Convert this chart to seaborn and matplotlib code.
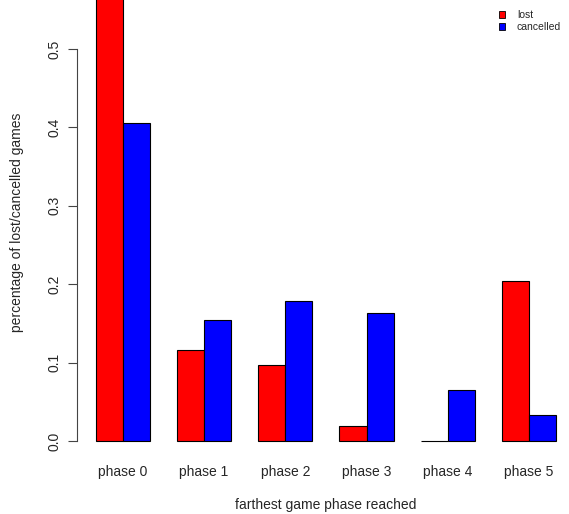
import pandas as pd
import numpy as np
import matplotlib
matplotlib.use('Agg')
import matplotlib.pyplot as plt
import seaborn as sns
from matplotlib.patches import Patch

# -------------------------------
# DATA
# -------------------------------

phases = ['phase 0', 'phase 1', 'phase 2', 'phase 3', 'phase 4', 'phase 5']
lost = [0.60, 0.116, 0.097, 0.019, 0.0, 0.204]
cancelled = [0.406, 0.154, 0.179, 0.163, 0.065, 0.033]
series = ['lost', 'cancelled']
colors = ['#FF0000', '#0000FF']
y_ticks = [0.0, 0.1, 0.2, 0.3, 0.4, 0.5]

df = pd.DataFrame({
    'phase': phases * 2,
    'type': ['lost'] * len(phases) + ['cancelled'] * len(phases),
    'value': lost + cancelled
})

# -------------------------------
# PLOT
# -------------------------------

sns.set_style('white')
plt.rcParams['font.family'] = ['Liberation Sans', 'DejaVu Sans']

fig = plt.figure(figsize=(5.69, 5.14), dpi=100)
ax = fig.add_axes([77 / 569, 1 - 459 / 514, 492 / 569, 459 / 514])

sns.barplot(
    data=df,
    x='phase',
    y='value',
    hue='type',
    hue_order=series,
    order=phases,
    palette=colors,
    width=2 / 3,
    gap=0,
    saturation=1,
    edgecolor='black',
    linewidth=0.8,
    legend=False,
    ax=ax
)

ax.set_xlim(-0.562, 5.49)
ax.set_ylim(-0.023, 0.5625)

# axis style (R-like)
for side in ['top', 'right', 'bottom']:
    ax.spines[side].set_visible(False)
ax.spines['left'].set_bounds(0, 0.5)
ax.spines['left'].set_color('#444444')
ax.spines['left'].set_linewidth(0.8)

ax.set_yticks(y_ticks)
ax.set_yticklabels([f'{t:.1f}' for t in y_ticks], rotation=90, va='center')
ax.tick_params(axis='y', length=6.5, width=0.8, color='#444444',
               labelsize=10, pad=5, left=True)
ax.tick_params(axis='x', length=0, labelsize=10, pad=4)

ax.set_xlabel('farthest game phase reached', fontsize=10)
ax.set_ylabel('percentage of lost/cancelled games', fontsize=10)
ax.xaxis.set_label_coords(0.506, -0.085)
ax.yaxis.set_label_coords(-0.108, 0.516)

handles = [Patch(facecolor=c, edgecolor='black', linewidth=0.6) for c in colors]
ax.legend(
    handles,
    series,
    loc='upper left',
    bbox_to_anchor=(492 / 569, 1 - 3 / 514),
    bbox_transform=fig.transFigure,
    frameon=False,
    fontsize=7.5,
    handlelength=0.58,
    handleheight=0.58,
    handletextpad=1.1,
    labelspacing=0.2,
    borderaxespad=0.3
)

plt.savefig('out.png', dpi=100)
plt.close()
